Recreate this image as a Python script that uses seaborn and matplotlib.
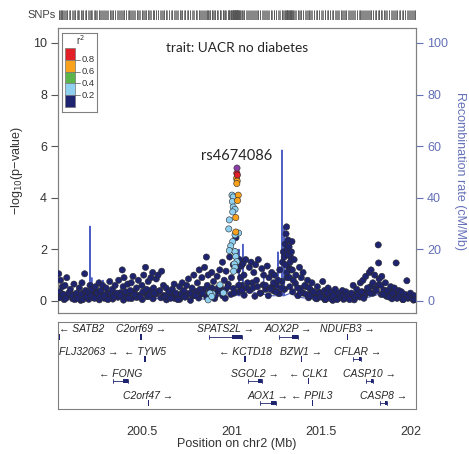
import numpy as np
import pandas as pd
import seaborn as sns
import matplotlib
matplotlib.use('Agg')
from matplotlib import pyplot as plt
from matplotlib.patches import Rectangle

# ---- data ----
# dense baseline SNPs (Mb, -log10 p)
base_pos = [200.038, 200.052, 200.066, 200.083, 200.097, 200.113, 200.128, 200.143, 200.158, 200.172,
            200.188, 200.203, 200.217, 200.232, 200.246, 200.262, 200.277, 200.291, 200.306, 200.322,
            200.337, 200.351, 200.366, 200.382, 200.397, 200.411, 200.426, 200.442, 200.457, 200.471,
            200.486, 200.502, 200.517, 200.531, 200.546, 200.562, 200.577, 200.591, 200.606, 200.622,
            200.637, 200.651, 200.666, 200.682, 200.697, 200.711, 200.726, 200.742, 200.757, 200.771,
            200.786, 200.802, 200.817, 200.831, 200.846, 200.862, 200.877, 200.891, 200.906, 200.922,
            200.937, 200.951, 200.966, 200.982, 200.997, 201.011, 201.042, 201.057, 201.071, 201.086,
            201.102, 201.117, 201.131, 201.146, 201.162, 201.177, 201.191, 201.206, 201.222, 201.237,
            201.251, 201.266, 201.282, 201.297, 201.311, 201.326, 201.342, 201.357, 201.371, 201.386,
            201.402, 201.417, 201.431, 201.446, 201.462, 201.477, 201.491, 201.506, 201.522, 201.537,
            201.551, 201.566, 201.582, 201.597, 201.611, 201.626, 201.642, 201.657, 201.671, 201.686,
            201.702, 201.717, 201.731, 201.746, 201.762, 201.777, 201.791, 201.806, 201.822, 201.837,
            201.851, 201.866, 201.882, 201.897, 201.911, 201.926, 201.942, 201.957, 201.971, 201.986,
            202.002, 202.017, 202.028]
base_logp = [0.12, 0.28, 0.05, 0.20, 0.33, 0.08, 0.25, 0.15, 0.02, 0.30,
             0.18, 0.06, 0.27, 0.12, 0.35, 0.04, 0.22, 0.10, 0.31, 0.16,
             0.07, 0.24, 0.14, 0.32, 0.03, 0.19, 0.28, 0.09, 0.36, 0.13,
             0.22, 0.05, 0.30, 0.17, 0.40, 0.08, 0.26, 0.35, 0.12, 0.21,
             0.04, 0.18, 0.29, 0.10, 0.23, 0.06, 0.33, 0.15, 0.27, 0.02,
             0.20, 0.37, 0.11, 0.26, 0.45, 0.15, 0.30, 0.50, 0.09, 0.38,
             0.55, 0.20, 0.42, 0.65, 0.25, 0.48, 0.35, 0.60, 0.22, 0.50,
             0.40, 0.70, 0.18, 0.55, 0.30, 0.62, 0.45, 0.20, 0.52, 0.38,
             0.60, 0.28, 0.75, 0.45, 0.90, 0.55, 0.35, 0.68, 0.20, 0.48,
             0.30, 0.55, 0.12, 0.40, 0.25, 0.08, 0.33, 0.18, 0.05, 0.27,
             0.14, 0.02, 0.22, 0.10, 0.30, 0.06, 0.19, 0.12, 0.25, 0.04,
             0.28, 0.15, 0.35, 0.22, 0.40, 0.55, 0.30, 0.48, 0.62, 0.25,
             0.42, 0.18, 0.35, 0.08, 0.26, 0.12, 0.30, 0.05, 0.20, 0.10,
             0.15, 0.03, 0.18]

# other low-LD SNPs (r2 < 0.2)
snp_pos = [200.035, 200.04, 200.045, 200.05, 200.055, 200.06, 200.07, 200.075, 200.08, 200.09, 200.10, 200.11, 200.12, 200.125,
           200.135, 200.14, 200.15, 200.16, 200.165, 200.17, 200.18, 200.185, 200.19, 200.2, 200.21, 200.215, 200.22,
           200.235, 200.24, 200.25, 200.26, 200.265, 200.27, 200.28, 200.29, 200.3, 200.31, 200.32, 200.325,
           200.335, 200.34, 200.35, 200.36, 200.37, 200.38, 200.39, 200.395, 200.4, 200.41, 200.42, 200.425,
           200.435, 200.44, 200.45, 200.46, 200.47, 200.48, 200.49, 200.5, 200.505, 200.51, 200.52, 200.525,
           200.535, 200.54, 200.55, 200.56, 200.565, 200.57, 200.58, 200.59, 200.6, 200.61, 200.62, 200.625,
           200.635, 200.64, 200.65, 200.66, 200.67, 200.68, 200.69, 200.7, 200.71, 200.72, 200.725,
           200.735, 200.74, 200.75, 200.76, 200.77, 200.78, 200.79, 200.8, 200.81, 200.82, 200.825,
           200.835, 200.84, 200.85, 200.86, 200.865, 200.87, 200.88, 200.89, 200.9, 200.91, 200.92, 200.925,
           200.935, 200.94, 200.95, 200.96, 200.965, 200.97, 200.98, 200.99, 201.0, 201.01, 201.015, 201.02, 201.025,
           201.035, 201.04, 201.045, 201.05, 201.055, 201.06, 201.065, 201.07, 201.08, 201.09, 201.1, 201.11, 201.12, 201.125,
           201.135, 201.14, 201.15, 201.16, 201.17, 201.18, 201.19, 201.2, 201.21, 201.22, 201.225,
           201.235, 201.24, 201.25, 201.26, 201.27, 201.28, 201.285, 201.29, 201.3, 201.305, 201.308, 201.312, 201.316, 201.32, 201.325, 201.33,
           201.295, 201.302, 201.31, 201.318, 201.322, 201.328, 201.332, 201.335,
           201.338, 201.34, 201.345, 201.35, 201.36, 201.37, 201.38, 201.385, 201.39, 201.4, 201.41, 201.42, 201.425,
           201.435, 201.44, 201.45, 201.46, 201.47, 201.48, 201.49, 201.5, 201.51, 201.52, 201.525,
           201.535, 201.54, 201.55, 201.56, 201.57, 201.58, 201.59, 201.6, 201.61, 201.62, 201.625,
           201.635, 201.64, 201.65, 201.66, 201.67, 201.68, 201.69, 201.7, 201.71, 201.72, 201.725,
           201.735, 201.74, 201.75, 201.76, 201.77, 201.775, 201.78, 201.79, 201.8, 201.81, 201.82, 201.822, 201.825,
           201.835, 201.84, 201.85, 201.86, 201.87, 201.88, 201.89, 201.9, 201.91, 201.92, 201.925,
           201.935, 201.94, 201.95, 201.96, 201.97, 201.98, 201.99, 202.0, 202.01, 202.02, 202.025]
snp_logp = [1.05, 0.35, 0.8, 0.15, 0.55, 0.25, 0.6, 0.1, 0.9, 0.3, 0.45, 0.2, 0.65, 0.05,
            0.3, 0.1, 0.5, 0.25, 0.7, 0.05, 1.05, 0.4, 0.15, 0.35, 0.6, 0.2, 0.45,
            0.1, 0.55, 0.3, 0.7, 0.15, 0.4, 0.6, 0.2, 0.5, 0.05, 0.75, 0.3,
            0.45, 0.15, 0.6, 0.3, 0.8, 0.2, 1.2, 0.55, 0.9, 0.35, 0.65, 0.1,
            0.4, 0.7, 0.95, 0.25, 0.5, 0.8, 0.15, 0.6, 0.35, 1.0, 1.3, 0.45,
            0.75, 0.2, 0.9, 1.1, 0.5, 0.3, 0.85, 1.0, 0.4, 1.15, 0.6, 0.15,
            0.5, 0.2, 0.35, 0.1, 0.45, 0.65, 0.3, 0.05, 0.55, 0.25, 0.7,
            0.4, 0.15, 0.6, 0.85, 0.3, 0.5, 1.0, 0.2, 0.7, 1.2, 0.45,
            0.9, 0.3, 1.3, 1.7, 0.6, 1.0, 0.4, 1.1, 0.75, 0.2, 0.95, 0.5,
            1.2, 0.35, 1.5, 0.8, 0.1, 1.15, 0.55, 1.7, 0.9, 1.4, 0.3, 1.9, 2.45,
            1.2, 0.6, 1.6, 0.9, 1.35, 0.4, 1.45, 1.0, 1.6, 0.7, 1.3, 1.5, 0.5, 1.1,
            1.4, 0.8, 1.6, 0.3, 1.25, 1.0, 0.6, 1.35, 0.9, 0.45, 1.1,
            0.7, 1.0, 0.35, 0.8, 1.2, 0.5, 1.5, 1.9, 2.2, 2.6, 2.87, 2.0, 2.36, 1.3, 0.9, 1.7,
            1.7, 1.4, 1.1, 1.8, 2.1, 1.5, 1.2, 1.9,
            2.3, 1.2, 0.8, 1.6, 1.0, 0.5, 1.3, 0.3, 0.9, 1.1, 0.6, 0.25, 0.8,
            0.5, 0.2, 0.7, 0.35, 0.1, 0.55, 0.3, 0.15, 0.75, 0.4, 0.05,
            0.3, 0.5, 0.1, 0.35, 0.2, 0.45, 0.05, 0.3, 0.15, 0.4, 0.2,
            0.1, 0.35, 0.2, 0.05, 0.3, 0.6, 0.15, 0.45, 0.25, 0.7, 0.35,
            0.8, 0.1, 0.95, 0.5, 1.1, 0.3, 1.2, 0.7, 1.0, 0.4, 2.17, 1.47, 0.85,
            0.6, 0.95, 0.25, 0.7, 0.4, 0.15, 0.55, 0.3, 0.5, 1.47, 0.1,
            0.4, 0.2, 0.35, 0.05, 0.25, 0.78, 0.15, 0.3, 0.1, 0.2, 0.05]

# SNPs in LD with the lead SNP
ld_pos = [201.030, 201.033, 201.029, 201.032, 201.030, 201.038, 201.034, 201.024, 201.024,
          201.003, 201.010, 201.005, 201.010, 201.020, 201.007, 200.988, 200.985, 201.040, 201.020,
          201.007, 200.996, 200.988, 201.020, 201.024, 201.030, 201.016, 201.020, 201.012,
          200.936, 200.895, 200.880, 200.870, 200.890, 200.955]
ld_logp = [4.95, 4.88, 4.75, 4.65, 4.55, 4.10, 3.89, 3.23, 2.67,
           4.10, 4.03, 3.85, 3.64, 3.55, 3.45, 3.14, 2.79, 2.63, 2.56,
           2.30, 2.13, 1.95, 1.91, 1.72, 1.52, 1.43, 1.30, 1.15,
           0.62, 0.27, 0.30, 0.04, 0.17, 0.31]
ld_r2 = [0.9, 0.9, 0.7, 0.7, 0.7, 0.7, 0.7, 0.7, 0.7,
         0.3, 0.3, 0.3, 0.3, 0.3, 0.3, 0.3, 0.3, 0.3, 0.3,
         0.3, 0.3, 0.3, 0.3, 0.3, 0.3, 0.3, 0.3, 0.3,
         0.3, 0.3, 0.3, 0.3, 0.3, 0.3]

lead_name = 'rs4674086'
lead_pos = 201.031
lead_logp = 5.15

# recombination rate (cM/Mb)
rec_pos = [200.031, 200.06, 200.09, 200.12, 200.15, 200.18, 200.209, 200.210, 200.211, 200.219,
           200.220, 200.221, 200.25, 200.281, 200.282, 200.283, 200.32, 200.36, 200.40, 200.45,
           200.50, 200.55, 200.60, 200.65, 200.70, 200.75, 200.80, 200.85, 200.90, 200.95,
           201.00, 201.041, 201.042, 201.043, 201.063, 201.064, 201.065, 201.10, 201.14, 201.179,
           201.180, 201.181, 201.22, 201.259, 201.260, 201.261, 201.281, 201.282, 201.283, 201.293,
           201.294, 201.295, 201.33, 201.37, 201.42, 201.47, 201.52, 201.57, 201.62, 201.67,
           201.72, 201.77, 201.82, 201.87, 201.92, 201.97, 202.031]
rec_rate = [0.8, 1.2, 0.5, 1.5, 0.9, 2.0, 1.0, 29, 1.0, 1.0,
            9, 1.0, 1.5, 1.0, 8, 1.0, 0.7, 1.1, 0.6, 1.3,
            0.8, 0.5, 1.0, 0.7, 0.4, 0.9, 1.2, 0.6, 1.5, 2.5,
            3.0, 2.0, 20, 2.0, 2.0, 22, 2.0, 4.0, 3.0, 2.5,
            12, 2.5, 2.0, 2.0, 19, 2.0, 2.0, 58.5, 2.0, 2.0,
            29, 2.0, 3.0, 1.5, 1.0, 0.7, 0.4, 0.6, 0.3, 0.5,
            0.8, 1.5, 2.5, 1.0, 0.6, 0.9, 0.5]

# genes
gene_names = ['SATB2', 'C2orf69', 'SPATS2L', 'AOX2P', 'NDUFB3',
              'FLJ32063', 'TYW5', 'KCTD18', 'BZW1', 'CFLAR',
              'FONG', 'SGOL2', 'CLK1', 'CASP10',
              'C2orf47', 'AOX1', 'PPIL3', 'CASP8']
gene_start = [200.031, 200.490, 200.875, 201.266, 201.643,
              200.031, 200.512, 201.072, 201.387, 201.680,
              200.338, 201.092, 201.426, 201.752,
              200.532, 201.160, 201.448, 201.830]
gene_end = [200.040, 200.500, 201.060, 201.372, 201.650,
            200.036, 200.525, 201.081, 201.392, 201.725,
            200.422, 201.171, 201.431, 201.791,
            200.537, 201.250, 201.453, 201.870]
gene_row = [0, 0, 0, 0, 0, 1, 1, 1, 1, 1, 2, 2, 2, 2, 3, 3, 3, 3]
gene_strand = ['-', '+', '+', '+', '+', '+', '-', '-', '+', '+',
               '-', '+', '-', '+', '+', '+', '-', '+']

trait = 'trait: UACR no diabetes'

# ---- styling ----
sns.set_style('white')
plt.rcParams['font.family'] = ['Liberation Sans', 'DejaVu Sans']

NAVY = '#1f2470'
REC_BLUE = '#4d5fc4'
AX_BLUE = '#6470b8'
GRAY = '#808080'
cat_order = ['r0', 'r2', 'r4', 'r6', 'r8', 'lead']
pal = {'r0': NAVY, 'r2': '#8fd0f0', 'r4': '#5cb54a', 'r6': '#f9a11b', 'r8': '#e21f26', 'lead': '#8b3fa6'}


def r2cat(r):
    if r >= 0.8:
        return 'r8'
    if r >= 0.6:
        return 'r6'
    if r >= 0.4:
        return 'r4'
    if r >= 0.2:
        return 'r2'
    return 'r0'


df = pd.concat([
    pd.DataFrame({'pos': base_pos, 'logp': base_logp, 'cat': 'r0'}),
    pd.DataFrame({'pos': snp_pos, 'logp': snp_logp, 'cat': 'r0'}),
    pd.DataFrame({'pos': ld_pos, 'logp': ld_logp, 'cat': [r2cat(r) for r in ld_r2]}),
    pd.DataFrame({'pos': [lead_pos], 'logp': [lead_logp], 'cat': ['lead']}),
], ignore_index=True)
df['order'] = df['cat'].map({c: i for i, c in enumerate(cat_order)})
df = df.sort_values('order', kind='stable')

XMIN, XMAX = 200.031, 202.031
W, H = 469, 454

fig = plt.figure(figsize=(W / 100, H / 100), dpi=100)
ax = fig.add_axes([58 / W, 1 - 313 / H, 358 / W, 285 / H])
gax = fig.add_axes([58 / W, 1 - 409 / H, 358 / W, 87 / H])
sax = fig.add_axes([58 / W, 1 - 20 / H, 358 / W, 10 / H])

# recombination rate (drawn behind the points)
ax2 = ax.twinx()
sns.lineplot(x=rec_pos, y=rec_rate, sort=False, estimator=None, color=REC_BLUE,
             linewidth=0.8, ax=ax2)
ax2.set_ylim(-4.7, 105.8)
ax2.set_yticks([0, 20, 40, 60, 80, 100])
ax2.set_ylabel('Recombination rate (cM/Mb)', fontsize=9, color=AX_BLUE, rotation=270, labelpad=13)
ax2.tick_params(axis='y', length=5, color=AX_BLUE, labelsize=9, labelcolor=AX_BLUE, pad=3)
for sp in ax2.spines.values():
    sp.set_color(GRAY)
    sp.set_linewidth(0.8)
ax.set_zorder(ax2.get_zorder() + 1)
ax.patch.set_visible(False)

# association points
sns.scatterplot(data=df, x='pos', y='logp', hue='cat', palette=pal, hue_order=cat_order,
                s=20, edgecolor='#2a2a2a', linewidth=0.4, legend=False, ax=ax, zorder=3)
ax.set_xlim(XMIN, XMAX)
ax.set_ylim(-0.47, 10.58)
ax.set_yticks([0, 2, 4, 6, 8, 10])
ax.set_xticks([])
ax.set_xlabel('')
ax.set_ylabel('\u2212log$_{10}$(p\u2212value)', fontsize=9, color='#333333', labelpad=6)
ax.tick_params(axis='y', length=5, color='#555555', labelsize=9, labelcolor='#333333', pad=3)
for sp in ax.spines.values():
    sp.set_color(GRAY)
    sp.set_linewidth(0.8)

ax.text(201.031, 9.8, trait, ha='center', va='center', fontsize=9.8, family=['Lato', 'DejaVu Sans'])
ax.text(lead_pos, 5.6, lead_name, ha='center', va='center', fontsize=10.5, family=['Lato', 'DejaVu Sans'])

# r2 legend
lg = fig.add_axes([62 / W, 1 - 112 / H, 35 / W, 79 / H])
lg.set_zorder(ax.get_zorder() + 1)
lg.set_xlim(0, 1)
lg.set_ylim(0, 1)
lg.set_xticks([])
lg.set_yticks([])
for sp in lg.spines.values():
    sp.set_color(GRAY)
    sp.set_linewidth(0.8)
legend_cols = [pal['r8'], pal['r6'], pal['r4'], pal['r2'], pal['r0']]
top, step = 0.81, 0.149
for i, c in enumerate(legend_cols):
    lg.add_patch(Rectangle((0.09, top - (i + 1) * step), 0.29, step, facecolor=c,
                           edgecolor='#777777', linewidth=0.5))
for i, lab in enumerate(['0.8', '0.6', '0.4', '0.2']):
    yy = top - (i + 1) * step
    lg.plot([0.38, 0.52], [yy, yy], color='#555555', lw=0.5)
    lg.text(0.56, yy, lab, fontsize=6.8, va='center', ha='left', color='#333333')
lg.text(0.52, 0.91, 'r$^2$', fontsize=7, ha='center', va='center', color='#333333')

# gene track
gax.set_xlim(XMIN, XMAX)
gax.set_ylim(3.95, 0)
gax.set_yticks([])
gax.set_xticks([200.5, 201, 201.5, 202])
gax.set_xticklabels(['200.5', '201', '201.5', '202'])
gax.tick_params(axis='x', length=6, color=GRAY, labelsize=9, labelcolor='#333333', pad=6)
gax.set_xlabel('Position on chr2 (Mb)', fontsize=9, color='#333333', labelpad=0)
for sp in gax.spines.values():
    sp.set_color(GRAY)
    sp.set_linewidth(0.8)

for name, s, e, r, strand in zip(gene_names, gene_start, gene_end, gene_row, gene_strand):
    yg = r + 0.68
    if e - s > 0.02:
        gax.plot([s, e], [yg, yg], color=NAVY, lw=0.6)
        gax.plot([s, s], [yg - 0.1, yg + 0.1], color=NAVY, lw=0.6)
        gax.plot([e, e], [yg - 0.1, yg + 0.1], color=NAVY, lw=0.6)
        x0 = e - (e - s) * 0.3
        gax.add_patch(Rectangle((x0, yg - 0.1), e - x0, 0.2, color=NAVY, lw=0))
    else:
        gax.add_patch(Rectangle((s, yg - 0.12), max(e - s, 0.004), 0.24, color=NAVY, lw=0))
    label = ('\u2190 ' + name) if strand == '-' else (name + ' \u2192')
    xc = (s + e) / 2
    if xc - XMIN < 0.15:
        gax.text(XMIN + 0.005, r + 0.34, label, ha='left', va='center', fontsize=7.5, style='italic')
    else:
        gax.text(xc, r + 0.34, label, ha='center', va='center', fontsize=7.5, style='italic')

# SNP density track
sax.set_xlim(XMIN, XMAX)
sax.set_ylim(0, 1)
sax.vlines(list(base_pos) + list(snp_pos) + list(ld_pos), 0, 1, color='#555555', lw=0.5)
sax.axis('off')
fig.text(27 / W, 1 - 15 / H, 'SNPs', fontsize=8, color='#444444', va='center', ha='left')

fig.savefig('out.png', dpi=100)
